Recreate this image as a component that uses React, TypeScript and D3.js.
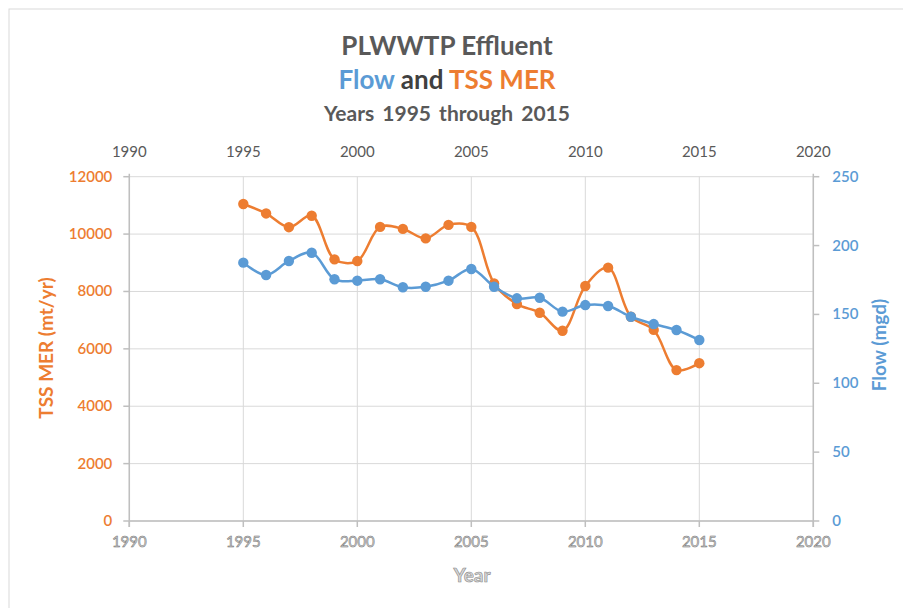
import * as d3 from "d3";

const years = [1995, 1996, 1997, 1998, 1999, 2000, 2001, 2002, 2003, 2004, 2005, 2006, 2007, 2008, 2009, 2010, 2011, 2012, 2013, 2014, 2015];
const tssMer = [11050, 10720, 10240, 10640, 9120, 9060, 10250, 10180, 9850, 10320, 10250, 8280, 7560, 7260, 6630, 8190, 8830, 7120, 6660, 5260, 5500];
const flow = [187.6, 178.6, 188.8, 194.8, 175.5, 174.5, 175.5, 169.7, 170.1, 174.5, 183, 170.1, 161.7, 162.1, 152, 156.8, 156.1, 148.3, 143, 138.7, 131.4];
const yearTicks = [1990, 1995, 2000, 2005, 2010, 2015, 2020];
const tssTicks = [0, 2000, 4000, 6000, 8000, 10000, 12000];
const flowTicks = [0, 50, 100, 150, 200, 250];

const ORANGE = "#ED7D31";
const BLUE = "#5B9BD5";
const GRAY = "#595959";
const FONT = "Lato, 'Open Sans', sans-serif";

export default function App() {
  const width = 903;
  const height = 608;
  const left = 129.3, right = 813.3, top = 176.7, bottom = 521;

  const x = d3.scaleLinear().domain([1990, 2020]).range([left, right]);
  const yL = d3.scaleLinear().domain([0, 12000]).range([bottom, top]);
  const yR = d3.scaleLinear().domain([0, 250]).range([bottom, top]);

  const tssPts: [number, number][] = years.map((yr, i) => [x(yr), yL(tssMer[i])]);
  const flowPts: [number, number][] = years.map((yr, i) => [x(yr), yR(flow[i])]);
  const line = d3.line().curve(d3.curveCatmullRom.alpha(0.5));

  return (
    <div style={{ position: "fixed", left: 0, top: 0 }}>
      <svg width={width} height={height} style={{ display: "block", background: "#fff" }} fontFamily={FONT}>
        <rect x={9} y={9} width={width + 10} height={height + 10} fill="none" stroke="#d9d9d9" strokeWidth={1} />

        {/* titles */}
        <text x={447} y={55} textAnchor="middle" fontSize={26} fontWeight={700} fill={GRAY}>PLWWTP Effluent</text>
        <text x={447} y={89} textAnchor="middle" fontSize={26} fontWeight={700}>
          <tspan fill={BLUE}>Flow</tspan>
          <tspan fill="#404040"> and </tspan>
          <tspan fill={ORANGE}>TSS MER</tspan>
        </text>
        <text x={447} y={121} textAnchor="middle" fontSize={21} fontWeight={700} fill={GRAY} wordSpacing={3}>Years 1995 through 2015</text>

        {/* gridlines */}
        {tssTicks.map((t) => (
          <line key={`h${t}`} x1={left} x2={right} y1={yL(t)} y2={yL(t)} stroke="#d9d9d9" strokeWidth={1} />
        ))}
        {yearTicks.map((t) => (
          <line key={`v${t}`} x1={x(t)} x2={x(t)} y1={top} y2={bottom} stroke="#d9d9d9" strokeWidth={1} />
        ))}

        {/* axis lines */}
        <line x1={left} x2={left} y1={top - 3} y2={bottom + 6} stroke="#bfbfbf" strokeWidth={1.5} />
        <line x1={right} x2={right} y1={top - 3} y2={bottom + 6} stroke="#bfbfbf" strokeWidth={1.5} />
        <line x1={left} x2={right} y1={bottom} y2={bottom} stroke="#bfbfbf" strokeWidth={1.5} />
        {tssTicks.map((t) => (
          <line key={`lt${t}`} x1={left - 6} x2={left} y1={yL(t)} y2={yL(t)} stroke="#bfbfbf" strokeWidth={1.5} />
        ))}
        {flowTicks.map((t) => (
          <line key={`rt${t}`} x1={right} x2={right + 6} y1={yR(t)} y2={yR(t)} stroke="#bfbfbf" strokeWidth={1.5} />
        ))}
        {yearTicks.map((t) => (
          <line key={`bt${t}`} x1={x(t)} x2={x(t)} y1={bottom} y2={bottom + 6} stroke="#bfbfbf" strokeWidth={1.5} />
        ))}

        {/* tick labels */}
        {tssTicks.map((t) => (
          <text key={`ll${t}`} x={left - 17} y={yL(t) + 5} textAnchor="end" fontSize={15} fontWeight={600} fill={ORANGE}>{t}</text>
        ))}
        {flowTicks.map((t) => (
          <text key={`rl${t}`} x={right + 19} y={yR(t) + 5} textAnchor="start" fontSize={15} fontWeight={600} fill={BLUE}>{t}</text>
        ))}
        {yearTicks.map((t) => (
          <text key={`tl${t}`} x={x(t)} y={157} textAnchor="middle" fontSize={15} fill={GRAY}>{t}</text>
        ))}
        {yearTicks.map((t) => (
          <text key={`bl${t}`} x={x(t)} y={547} textAnchor="middle" fontSize={15} fill="#d0d0d0" stroke="#707070" strokeWidth={0.5}>{t}</text>
        ))}

        {/* axis titles */}
        <text transform={`translate(53, 348) rotate(-90)`} textAnchor="middle" fontSize={19} fontWeight={700} fill={ORANGE}>TSS MER (mt/yr)</text>
        <text transform={`translate(886, 345) rotate(-90)`} textAnchor="middle" fontSize={19} fontWeight={700} fill={BLUE}>Flow (mgd)</text>
        <text x={472} y={582} textAnchor="middle" fontSize={19} fontWeight={700} fill="#d8d8d8" stroke="#8a8a8a" strokeWidth={0.6}>Year</text>

        {/* series */}
        <path d={line(tssPts) ?? ""} fill="none" stroke={ORANGE} strokeWidth={2.5} />
        {tssPts.map(([cx, cy], i) => (
          <circle key={`o${i}`} cx={cx} cy={cy} r={5.2} fill={ORANGE} />
        ))}
        <path d={line(flowPts) ?? ""} fill="none" stroke={BLUE} strokeWidth={2.5} />
        {flowPts.map(([cx, cy], i) => (
          <circle key={`b${i}`} cx={cx} cy={cy} r={5.2} fill={BLUE} />
        ))}
      </svg>
    </div>
  );
}
